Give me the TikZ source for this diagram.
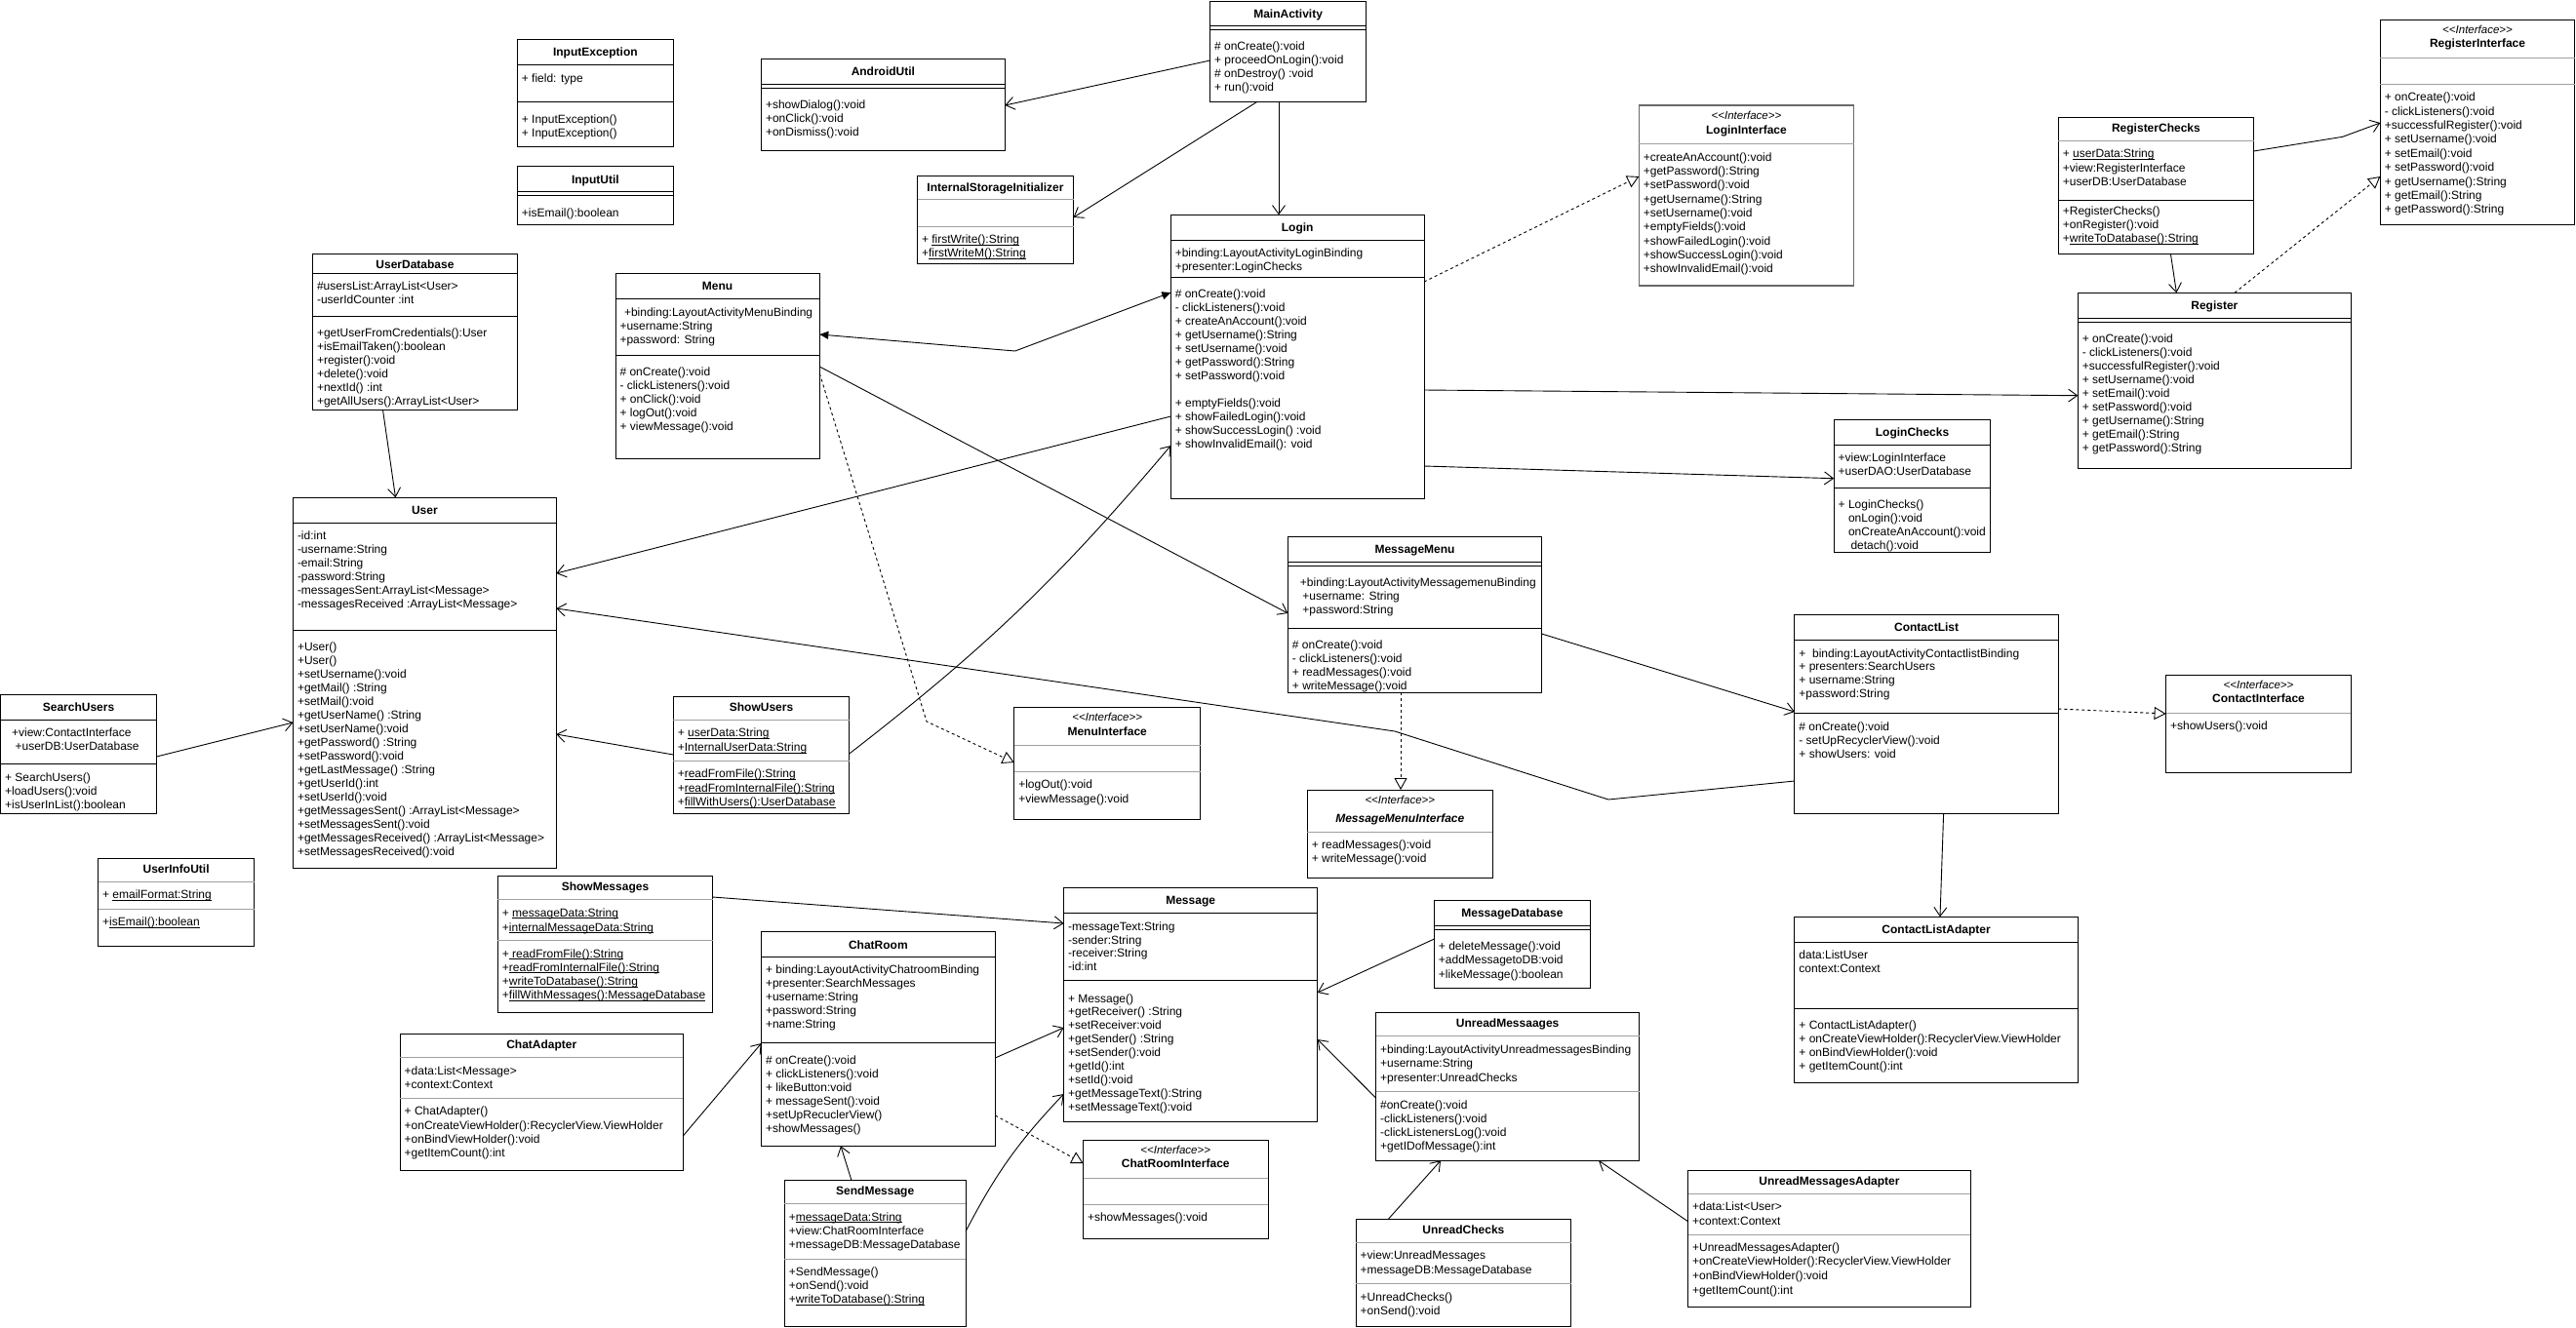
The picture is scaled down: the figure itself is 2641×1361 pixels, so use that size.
\documentclass[tikz,border=0pt]{standalone}
\usepackage{fontspec}
\newfontfamily\uf{Liberation Sans}
\usetikzlibrary{arrows.meta}
\definecolor{sepgray}{RGB}{160,160,160}
\definecolor{ifgray}{RGB}{105,105,105}
\newcommand\ul[1]{\setbox0\hbox{#1}\rlap{\rule[-1.6pt]{\wd0}{0.7pt}}\box0}
\tikzset{
  box/.style={draw=black, line width=1pt, inner sep=0pt, outer sep=0pt, anchor=north west},
  ifbox/.style={box, draw=ifgray, line width=1.6pt},
  ln/.style={anchor=base west, inner sep=0pt, outer sep=0pt},
  ttl/.style={anchor=base, inner sep=0pt, font=\uf\bfseries\fontsize{12}{14}\selectfont},
  ttlit/.style={anchor=base, inner sep=0pt, font=\uf\bfseries\itshape\fontsize{12}{14}\selectfont},
  stereo/.style={anchor=base, inner sep=0pt, font=\uf\itshape\fontsize{11.5}{14}\selectfont},
  sepk/.style={draw=black, line width=1pt},
  sepg/.style={draw=sepgray, line width=1pt},
  assoc/.style={draw, line width=0.9pt, -{Straight Barb[length=9pt,width=13pt]}},
  real/.style={draw, line width=0.9pt, dash pattern=on 3pt off 3pt, -{Triangle[open,length=12pt,width=13pt]}},
  blk/.style={draw, line width=0.9pt, {Triangle[length=9pt,width=8pt]}-{Triangle[length=9pt,width=8pt]}},
}
% box: [style]{name}{x1}{y1}{x2}{y2}
\newcommand\umlbox[6][box]{\node[#1, minimum width={#5-#3}, minimum height={#6-#4}] (#2) at (#3,#4) {};}
\newcommand\usep[3][sepk]{\draw[#1] (#2.west |- 0,#3) -- (#2.east |- 0,#3);}
\newcommand\utitle[4][ttl]{\pgfmathsetmacro\ty{#3+4.3}\node[#1] (#2-title) at (#2.north |- 0,\ty) {#4};}
\newcommand\ustereo[2]{\pgfmathsetmacro\ty{#2+4}\node[stereo] (#1-st) at (#1.north |- 0,\ty) {<\kern0pt<Interface>\kern0pt>};}
% lines: [spacing]{nameprefix}{box left x}{first line centre y}{list}
\newcommand\ulines[5][14]{%
  \foreach \ltxt [count=\k from 0] in {#5} {%
    \pgfmathsetmacro\ty{#4+4+#1*\k}\pgfmathsetmacro\tx{#3+4.5}%
    \node[ln] (#2\k) at (\tx,\ty) {\ltxt};}}
\begin{document}
\begin{tikzpicture}[x=1pt,y=-1pt,font=\uf\fontsize{12}{14}\selectfont]
\useasboundingbox (0,0) rectangle (2641,1361);
\fill[white] (0,0) rectangle (2641,1361);

% ---------- InputException
\umlbox{InputException}{530.4}{40.7}{690.3}{150.3}
\usep{InputException}{66.3}\usep{InputException}{104.7}
\utitle{InputException}{53.5}{InputException}
\ulines{InputException-a}{530.4}{80}{+ field: type}
\ulines{InputException-m}{530.4}{122}{+ InputException(),+ InputException()}

% ---------- InputUtil
\umlbox{InputUtil}{530.4}{170.7}{690.3}{230.3}
\usep{InputUtil}{196.7}\usep{InputUtil}{200.3}
\utitle{InputUtil}{183.7}{InputUtil}
\ulines{InputUtil-m}{530.4}{218}{+isEmail():boolean}

% ---------- UserDatabase
\umlbox{UserDatabase}{320.5}{260.3}{530.4}{420.3}
\usep{UserDatabase}{280.3}\usep{UserDatabase}{324}
\utitle{UserDatabase}{271}{UserDatabase}
\ulines{UserDatabase-a}{320.5}{293.7}{\#usersList:ArrayList<User>,-userIdCounter :int}
\ulines{UserDatabase-m}{320.5}{341.7}{+getUserFromCredentials():User,+isEmailTaken():boolean,+register():void,+delete():void,+nextId() :int,+getAllUsers():ArrayList<User>}

% ---------- AndroidUtil
\umlbox{AndroidUtil}{780.5}{60.3}{1030.3}{154.3}
\usep{AndroidUtil}{86.3}\usep{AndroidUtil}{90}
\utitle{AndroidUtil}{73.3}{AndroidUtil}
\ulines{AndroidUtil-m}{780.5}{107.7}{+showDialog():void,+onClick():void,+onDismiss():void}

% ---------- MainActivity
\umlbox{MainActivity}{1240.6}{1}{1400.6}{104.3}
\usep{MainActivity}{26.3}\usep{MainActivity}{30.3}
\utitle{MainActivity}{13.7}{MainActivity}
\ulines{MainActivity-m}{1240.6}{47.7}{\# onCreate():void,+ proceedOnLogin():void,\# onDestroy() :void,+ run():void}

% ---------- InternalStorageInitializer
\umlbox{InternalStorageInitializer}{940.5}{180.3}{1100.5}{270}
\usep[sepg]{InternalStorageInitializer}{204.3}\usep[sepg]{InternalStorageInitializer}{232.3}
\utitle{InternalStorageInitializer}{192}{InternalStorageInitializer}
\ulines{InternalStorageInitializer-m}{940.5}{245.7}{+ \ul{firstWrite():String},+\ul{firstWriteM():String}}

% ---------- Menu
\umlbox{Menu}{631}{280.3}{840.3}{470.3}
\usep{Menu}{306.3}\usep{Menu}{364.3}
\utitle{Menu}{293.3}{Menu}
\ulines{Menu-a}{631}{320}{\hspace{4.5pt}+binding:LayoutActivityMenuBinding,+username:String,+password: String}
\ulines{Menu-m}{631}{381.7}{\# onCreate():void,- clickListeners():void,+ onClick():void,+ logOut():void,+ viewMessage():void}

% ---------- Login
\umlbox{Login}{1200.3}{220.3}{1460}{511.7}
\usep{Login}{246.3}\usep{Login}{284.3}
\utitle{Login}{233.3}{Login}
\ulines{Login-a}{1200.3}{259.7}{+binding:LayoutActivityLoginBinding,+presenter:LoginChecks}
\ulines{Login-m}{1200.3}{301.7}{\# onCreate():void,- clickListeners():void,+ createAnAccount():void,+ getUsername():String,+ setUsername():void,+ getPassword():String,+ setPassword():void}
\ulines{Login-n}{1200.3}{413.7}{+ emptyFields():void,+ showFailedLogin():void,+ showSuccessLogin() :void,+ showInvalidEmail(): void}

% ---------- LoginInterface
\umlbox[ifbox]{LoginInterface}{1680.3}{107.7}{1900.6}{293}
\usep[sepg]{LoginInterface}{147}
\ustereo{LoginInterface}{118.3}
\utitle{LoginInterface}{132.7}{LoginInterface}
\ulines[14.35]{LoginInterface-m}{1680.3}{161}{+createAnAccount():void,+getPassword():String,+setPassword():void,+getUsername():String,+setUsername():void,+emptyFields():void,+showFailedLogin():void,+showSuccessLogin():void,+showInvalidEmail():void}

% ---------- LoginChecks
\umlbox{LoginChecks}{1880.2}{430.7}{2040.8}{566}
\usep{LoginChecks}{456.3}\usep{LoginChecks}{500.7}
\utitle{LoginChecks}{443.5}{LoginChecks}
\ulines{LoginChecks-a}{1880.2}{469.7}{+view:LoginInterface,+userDAO:UserDatabase}
\ulines{LoginChecks-m}{1880.2}{517.3}{+ LoginChecks(),\hphantom{+ }onLogin():void,\hphantom{+ }onCreateAnAccount():void,\hphantom{+ }\hspace{2.5pt}detach():void}

% ---------- RegisterInterface
\umlbox{RegisterInterface}{2440.3}{20.3}{2639.7}{230}
\usep[sepg]{RegisterInterface}{59.7}\usep[sepg]{RegisterInterface}{86.3}
\ustereo{RegisterInterface}{30.7}
\utitle{RegisterInterface}{44.3}{RegisterInterface}
\ulines[14.4]{RegisterInterface-m}{2440.3}{99.7}{+ onCreate():void,- clickListeners():void,+successfulRegister():void,+ setUsername():void,+ setEmail():void,+ setPassword():void,+ getUsername():String,+ getEmail():String,+ getPassword():String}

% ---------- RegisterChecks
\umlbox{RegisterChecks}{2110.3}{120.3}{2310.5}{260.3}
\usep[sepg]{RegisterChecks}{144.3}\usep{RegisterChecks}{205.3}
\utitle{RegisterChecks}{131.5}{RegisterChecks}
\ulines[14.5]{RegisterChecks-a}{2110.3}{157.7}{+ \ul{userData:String},+view:RegisterInterface,+userDB:UserDatabase}
\ulines[14.3]{RegisterChecks-m}{2110.3}{216}{+RegisterChecks(),+onRegister():void,+\ul{writeToDatabase():String}}

% ---------- Register
\umlbox{Register}{2130.3}{300.3}{2410.4}{480.3}
\usep{Register}{326.3}\usep{Register}{330.3}
\utitle{Register}{313.3}{Register}
\ulines{Register-m}{2130.3}{347.7}{+ onCreate():void,- clickListeners():void,+successfulRegister():void,+ setUsername():void,+ setEmail():void,+ setPassword():void,+ getUsername():String,+ getEmail():String,+ getPassword():String}

% ---------- User
\umlbox{User}{300.5}{510.3}{570.3}{890.3}
\usep{User}{536.7}\usep{User}{646.3}
\utitle{User}{523.5}{User}
\ulines{User-a}{300.5}{549.7}{-id:int,-username:String,-email:String,-password:String,-messagesSent:ArrayList<Message>,-messagesReceived :ArrayList<Message>}
\ulines{User-m}{300.5}{663.3}{+User(),+User(),+setUsername():void,+getMail() :String,+setMail():void,+getUserName() :String,+setUserName():void,+getPassword() :String,+setPassword():void,+getLastMessage() :String,+getUserId():int,+setUserId():void,+getMessagesSent() :ArrayList<Message>,+setMessagesSent():void,+getMessagesReceived() :ArrayList<Message>,+setMessagesReceived():void}

% ---------- SearchUsers
\umlbox{SearchUsers}{0.6}{712.7}{160.5}{834.3}
\usep{SearchUsers}{738.3}\usep{SearchUsers}{783.3}
\utitle{SearchUsers}{725.5}{SearchUsers}
\ulines{SearchUsers-a}{0.6}{751.7}{\hspace{7pt}+view:ContactInterface,\hspace{10.5pt}+userDB:UserDatabase}
\ulines{SearchUsers-m}{0.6}{797.7}{+ SearchUsers(),+loadUsers():void,+isUserInList():boolean}

% ---------- UserInfoUtil
\umlbox{UserInfoUtil}{100.6}{880.3}{260.6}{970.3}
\usep[sepg]{UserInfoUtil}{904.3}\usep[sepg]{UserInfoUtil}{932.3}
\utitle{UserInfoUtil}{891.5}{UserInfoUtil}
\ulines{UserInfoUtil-a}{100.6}{917.7}{+ \ul{emailFormat:String}}
\ulines{UserInfoUtil-m}{100.6}{945.7}{+\ul{isEmail():boolean}}

% ---------- ShowUsers
\umlbox{ShowUsers}{690.3}{714.3}{870.7}{834.3}
\usep[sepg]{ShowUsers}{738.3}\usep[sepg]{ShowUsers}{780.3}
\utitle{ShowUsers}{725.5}{ShowUsers}
\ulines[15]{ShowUsers-a}{690.3}{751.7}{+ \ul{userData:String},+\ul{InternalUserData:String}}
\ulines[14.5]{ShowUsers-m}{690.3}{793.7}{+\ul{readFromFile():String},+\ul{readFromInternalFile():String},+\ul{fillWithUsers():UserDatabase}}

% ---------- MenuInterface
\umlbox{MenuInterface}{1039.8}{725.7}{1230.6}{840}
\usep[sepg]{MenuInterface}{764}\usep[sepg]{MenuInterface}{791}
\ustereo{MenuInterface}{735.3}
\utitle{MenuInterface}{749.7}{MenuInterface}
\ulines[14.6]{MenuInterface-m}{1039.8}{804.7}{+logOut():void,+viewMessage():void}

% ---------- MessageMenu
\umlbox{MessageMenu}{1320.4}{550.3}{1580.6}{710}
\usep{MessageMenu}{576.3}\usep{MessageMenu}{580}\usep{MessageMenu}{644.3}
\utitle{MessageMenu}{563.5}{MessageMenu}
\ulines{MessageMenu-a}{1320.4}{597.7}{\hspace{8pt}+binding:LayoutActivityMessagemenuBinding,\hspace{10.5pt}+username: String,\hspace{10.5pt}+password:String}
\ulines{MessageMenu-m}{1320.4}{661.7}{\# onCreate():void,- clickListeners():void,+ readMessages():void,+ writeMessage():void}

% ---------- MessageMenuInterface
\umlbox{MessageMenuInterface}{1340.3}{810}{1530.3}{900.3}
\usep[sepg]{MessageMenuInterface}{853.3}
\ustereo{MessageMenuInterface}{820}
\utitle[ttlit]{MessageMenuInterface}{838.7}{MessageMenuInterface}
\ulines{MessageMenuInterface-m}{1340.3}{866.7}{+ readMessages():void,+ writeMessage():void}

% ---------- ContactList
\umlbox{ContactList}{1839.9}{630.7}{2110.3}{834.3}
\usep{ContactList}{656.3}\usep{ContactList}{731}
\utitle{ContactList}{643.5}{ContactList}
\ulines[13.9]{ContactList-a}{1839.9}{670}{+\ \ binding:LayoutActivityContactlistBinding,+ presenters:SearchUsers,+ username:String,+password:String}
\ulines{ContactList-m}{1839.9}{745.3}{\# onCreate():void,- setUpRecyclerView():void,+ showUsers: void}

% ---------- ContactInterface
\umlbox{ContactInterface}{2220.6}{692.3}{2410.4}{792}
\usep[sepg]{ContactInterface}{731.3}
\ustereo{ContactInterface}{702.7}
\utitle{ContactInterface}{716.3}{ContactInterface}
\ulines{ContactInterface-m}{2220.6}{744.7}{+showUsers():void}

% ---------- ContactListAdapter
\umlbox{ContactListAdapter}{1839.9}{940.3}{2130.3}{1110}
\usep{ContactListAdapter}{966.3}\usep{ContactListAdapter}{1034.3}
\utitle{ContactListAdapter}{953.3}{ContactListAdapter}
\ulines{ContactListAdapter-a}{1839.9}{979.3}{data:ListUser,context:Context}
\ulines{ContactListAdapter-m}{1839.9}{1051.7}{+ ContactListAdapter(),+ onCreateViewHolder():RecyclerView.ViewHolder,+ onBindViewHolder():void,+ getItemCount():int}

% ---------- Message
\umlbox{Message}{1090.6}{910.3}{1350.7}{1150}
\usep{Message}{936.3}\usep{Message}{1005.7}
\utitle{Message}{923.3}{Message}
\ulines[13.8]{Message-a}{1090.6}{950.3}{-messageText:String,-sender:String,-receiver:String,-id:int}
\ulines[13.96]{Message-m}{1090.6}{1024}{+ Message(),+getReceiver() :String,+setReceiver:void,+getSender() :String,+setSender():void,+getId():int,+setId():void,+getMessageText():String,+setMessageText():void}

% ---------- ChatRoom
\umlbox{ChatRoom}{780.5}{955.7}{1020.3}{1175.3}
\usep{ChatRoom}{981.7}\usep{ChatRoom}{1069.3}
\utitle{ChatRoom}{968.7}{ChatRoom}
\ulines{ChatRoom-a}{780.5}{994.7}{+ binding:LayoutActivityChatroomBinding,+presenter:SearchMessages,+username:String,+password:String,+name:String}
\ulines{ChatRoom-m}{780.5}{1087}{\# onCreate():void,+ clickListeners():void,+ likeButton:void,+ messageSent():void,+setUpRecuclerView(),+showMessages()}

% ---------- ShowMessages
\umlbox{ShowMessages}{510.4}{898.3}{730.6}{1038.3}
\usep[sepg]{ShowMessages}{922.3}\usep[sepg]{ShowMessages}{964}
\utitle{ShowMessages}{909.5}{ShowMessages}
\ulines[15]{ShowMessages-a}{510.4}{936}{+ \ul{messageData:String},+\ul{internalMessageData:String}}
\ulines[14.3]{ShowMessages-m}{510.4}{978}{+\ul{\ readFromFile():String},+\ul{readFromInternalFile():String},+\ul{writeToDatabase():String},+\ul{fillWithMessages():MessageDatabase}}

% ---------- ChatAdapter
\umlbox{ChatAdapter}{410.2}{1060.3}{700.3}{1200.3}
\usep[sepg]{ChatAdapter}{1084.3}\usep[sepg]{ChatAdapter}{1126.7}
\utitle{ChatAdapter}{1071.5}{ChatAdapter}
\ulines[14.7]{ChatAdapter-a}{410.2}{1098}{+data:List<Message>,+context:Context}
\ulines[14.3]{ChatAdapter-m}{410.2}{1139.7}{+ ChatAdapter(),+onCreateViewHolder():RecyclerView.ViewHolder,+onBindViewHolder():void,+getItemCount():int}

% ---------- ChatRoomInterface
\umlbox{ChatRoomInterface}{1110.5}{1169.3}{1300}{1270}
\usep[sepg]{ChatRoomInterface}{1208.3}\usep[sepg]{ChatRoomInterface}{1235.7}
\ustereo{ChatRoomInterface}{1179.3}
\utitle{ChatRoomInterface}{1193.3}{ChatRoomInterface}
\ulines{ChatRoomInterface-m}{1110.5}{1248.7}{+showMessages():void}

% ---------- SendMessage
\umlbox{SendMessage}{804.4}{1210.7}{990}{1360}
\usep[sepg]{SendMessage}{1234.3}\usep[sepg]{SendMessage}{1291.3}
\utitle{SendMessage}{1221.5}{SendMessage}
\ulines[14.3]{SendMessage-a}{804.4}{1248}{+\ul{messageData:String},+view:ChatRoomInterface,+messageDB:MessageDatabase}
\ulines{SendMessage-m}{804.4}{1304.7}{+SendMessage(),+onSend():void,+\ul{writeToDatabase():String}}

% ---------- MessageDatabase
\umlbox{MessageDatabase}{1470.4}{923.3}{1630.4}{1013.3}
\usep{MessageDatabase}{949.3}\usep{MessageDatabase}{953}
\utitle{MessageDatabase}{936.3}{MessageDatabase}
\ulines[14.2]{MessageDatabase-m}{1470.4}{970.7}{+ deleteMessage():void,+addMessagetoDB:void,+likeMessage():boolean}

% ---------- UnreadMessaages
\umlbox{UnreadMessaages}{1410.6}{1038.3}{1680.7}{1190.3}
\usep[sepg]{UnreadMessaages}{1062.7}\usep[sepg]{UnreadMessaages}{1119.3}
\utitle{UnreadMessaages}{1049.5}{UnreadMessaages}
\ulines[14.5]{UnreadMessaages-a}{1410.6}{1076}{+binding:LayoutActivityUnreadmessagesBinding,+username:String,+presenter:UnreadChecks}
\ulines[14.1]{UnreadMessaages-m}{1410.6}{1133.3}{\#onCreate():void,-clickListeners():void,-clickListenersLog():void,+getIDofMessage():int}

% ---------- UnreadChecks
\umlbox{UnreadChecks}{1390.2}{1250}{1610.5}{1360.3}
\usep[sepg]{UnreadChecks}{1274.3}\usep[sepg]{UnreadChecks}{1316}
\utitle{UnreadChecks}{1261}{UnreadChecks}
\ulines[15]{UnreadChecks-a}{1390.2}{1287.7}{+view:UnreadMessages,+messageDB:MessageDatabase}
\ulines[14.3]{UnreadChecks-m}{1390.2}{1330}{+UnreadChecks(),+onSend():void}

% ---------- UnreadMessagesAdapter
\umlbox{UnreadMessagesAdapter}{1730.6}{1200.7}{2020.4}{1340.3}
\usep[sepg]{UnreadMessagesAdapter}{1224.3}\usep[sepg]{UnreadMessagesAdapter}{1266.7}
\utitle{UnreadMessagesAdapter}{1211.5}{UnreadMessagesAdapter}
\ulines[14.6]{UnreadMessagesAdapter-a}{1730.6}{1237.7}{+data:List<User>,+context:Context}
\ulines[14.6]{UnreadMessagesAdapter-m}{1730.6}{1279.3}{+UnreadMessagesAdapter(),+onCreateViewHolder():RecyclerView.ViewHolder,+onBindViewHolder():void,+getItemCount():int}

% ---------- bend points
\coordinate (b1) at (1040.7,360);
\coordinate (b2) at (950,740);
\coordinate (b3) at (1649,820);
\coordinate (b4) at (1430,750);
\coordinate (b5) at (2401.7,140.3);

% ---------- connectors
\draw[assoc] (MainActivity.west |- 0,62) -- (AndroidUtil.east |- 0,108);
\draw[assoc] (MainActivity.south -| 1289,0) -- (InternalStorageInitializer.east |- 0,223);
\draw[assoc] (MainActivity.south -| 1311,0) -- (Login.north -| 1311,0);
\draw[blk] (Menu.east |- 0,343) -- (b1) -- (Login.west |- 0,300);
\draw[assoc] (Menu.east |- 0,376) -- (MessageMenu.west |- 0,629);
\draw[assoc] (Login.west |- 0,427) -- (User.east |- 0,588);
\draw[real] (Menu.east |- 0,383) -- (b2) -- (MenuInterface.west |- 0,782);
\draw[assoc] (ShowUsers.east |- 0,773) to[bend right=6] (Login.west |- 0,457);
\draw[assoc] (ShowUsers.west |- 0,774) -- (User.east |- 0,753);
\draw[assoc] (ContactList.west |- 0,801) -- (b3) -- (b4) -- (User.east |- 0,624);
\draw[assoc] (UserDatabase.south -| 392.5,0) -- (User.north -| 405.5,0);
\draw[assoc] (SearchUsers.east |- 0,776) -- (User.west |- 0,741);
\draw[assoc] (Login.east |- 0,400) -- (Register.west |- 0,405.7);
\draw[assoc] (Login.east |- 0,478) -- (LoginChecks.west |- 0,490.7);
\draw[real] (Login.east |- 0,289) -- (LoginInterface.west |- 0,181);
\draw[assoc] (RegisterChecks.east |- 0,155) -- (b5) -- (RegisterInterface.west |- 0,126);
\draw[assoc] (RegisterChecks.south -| 2225.4,0) -- (Register.north -| 2231.4,0);
\draw[real] (Register.north -| 2291,0) -- (RegisterInterface.west |- 0,181);
\draw[assoc] (MessageMenu.east |- 0,650) -- (ContactList.west |- 0,730);
\draw[real] (MessageMenu.south -| 1436,0) -- (MessageMenuInterface.north -| 1436,0);
\draw[real] (ContactList.east |- 0,727) -- (ContactInterface.west |- 0,732);
\draw[assoc] (ContactList.south -| 1992.6,0) -- (ContactListAdapter.north -| 1989,0);
\draw[assoc] (ShowMessages.east |- 0,920) -- (Message.west |- 0,947);
\draw[assoc] (ChatAdapter.east |- 0,1165) -- (ChatRoom.west |- 0,1070);
\draw[assoc] (ChatRoom.east |- 0,1085) -- (Message.west |- 0,1054);
\draw[real] (ChatRoom.east |- 0,1144) -- (ChatRoomInterface.west |- 0,1193);
\draw[assoc] (SendMessage.north -| 873,0) -- (ChatRoom.south -| 862,0);
\draw[assoc] (SendMessage.east |- 0,1263) to[bend left=8] (Message.west |- 0,1122);
\draw[assoc] (MessageDatabase.west |- 0,963) -- (Message.east |- 0,1018);
\draw[assoc] (UnreadMessaages.west |- 0,1126) -- (Message.east |- 0,1066);
\draw[assoc] (UnreadChecks.north -| 1423.6,0) -- (UnreadMessaages.south -| 1477,0);
\draw[assoc] (UnreadMessagesAdapter.west |- 0,1252.7) -- (UnreadMessaages.south -| 1639,0);
\end{tikzpicture}
\end{document}
